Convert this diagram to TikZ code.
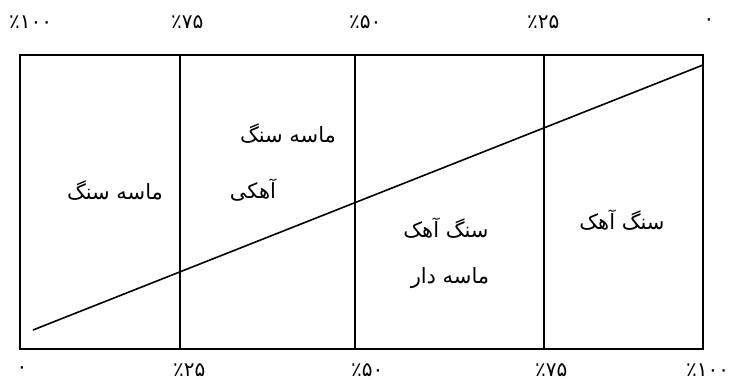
\documentclass[tikz,border=0pt]{standalone}
\usepackage{fontspec}
\TeXXeTstate=1
\newfontfamily\arabicfont[Script=Arabic]{DejaVu Sans}
\begin{document}
\begin{tikzpicture}[x=1pt,y=-1pt,
  frame/.style={line width=2.2pt},
  diag/.style={line width=1.6pt},
  word/.style={font=\arabicfont\fontsize{21}{24}\selectfont, inner sep=0pt},
  num/.style={font=\arabicfont\fontsize{20}{22}\selectfont, inner sep=0pt, anchor=west}]
\useasboundingbox (0,0) rectangle (734,380);
% frame corners and dividers
\coordinate (t0) at (20,55);  \coordinate (b0) at (20,349);
\coordinate (t1) at (180,55); \coordinate (b1) at (180,349);
\coordinate (t2) at (355,55); \coordinate (b2) at (355,349);
\coordinate (t3) at (544,55); \coordinate (b3) at (544,349);
\coordinate (t4) at (703,55); \coordinate (b4) at (703,349);
\draw[frame] (t0) rectangle (b4);
\draw[frame] (t1) -- (b1);
\draw[frame] (t2) -- (b2);
\draw[frame] (t3) -- (b3);
% diagonal
\coordinate (d0) at (33,330);
\coordinate (d1) at (703,65);
\draw[diag] (d0) -- (d1);
% top scale
\node[num] (n1) at (9,22) {٪۱۰۰};
\node[num] (n2) at (171,22) {٪۷۵};
\node[num] (n3) at (349,22) {٪۵۰};
\node[num] (n4) at (527,22) {٪۲۵};
\node[num,anchor=center] (n5) at (709,22) {۰};
% bottom scale
\node[num,anchor=center] (m1) at (22,370) {۰};
\node[num] (m2) at (173,370) {٪۲۵};
\node[num] (m3) at (351,370) {٪۵۰};
\node[num] (m4) at (535,370) {٪۷۵};
\node[num] (m5) at (686,370) {٪۱۰۰};
% region labels
\node[word] (w1) at (115,191) {\beginR ماسه سنگ\endR};
\node[word] (w2) at (288,134) {\beginR ماسه سنگ\endR};
\node[word] (w3) at (253,190) {\beginR آهکی\endR};
\node[word] (w4) at (446,228) {\beginR سنگ آهک\endR};
\node[word] (w5) at (450,278) {\beginR ماسه دار\endR};
\node[word] (w6) at (622,220) {\beginR سنگ آهک\endR};
\end{tikzpicture}
\end{document}
